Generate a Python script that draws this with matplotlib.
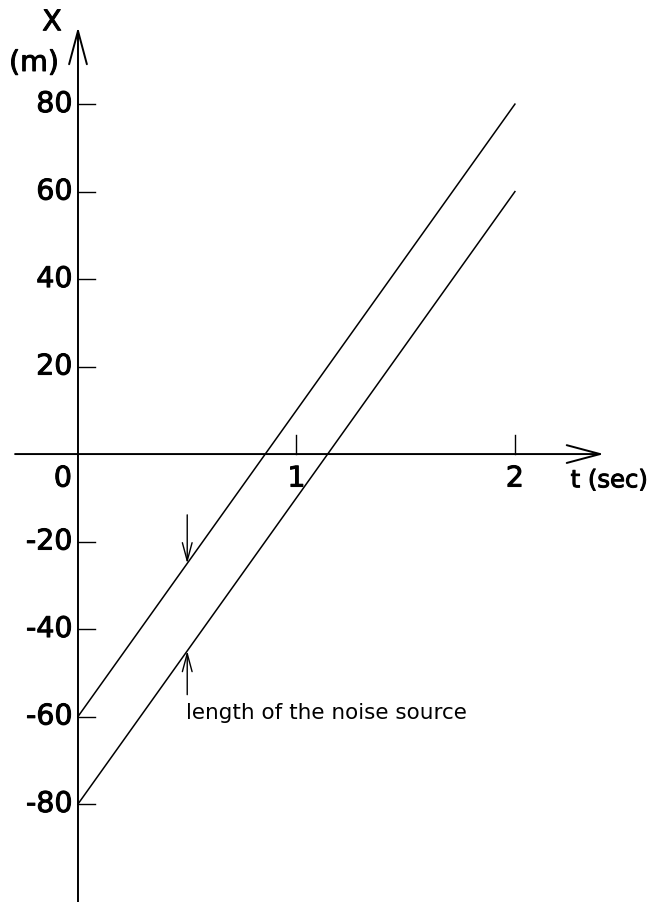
import matplotlib.pyplot as plt
import matplotlib.patheffects as pe

# path of the noise source front and rear ends, X(t) in metres
t_ends = [0.0, 2.0]
x_front = [-60.0, 80.0]
x_rear = [-80.0, 60.0]

# axis ticks
xticks = [1, 2]
xtick_labels = ['1', '2']
yticks = [80, 60, 40, 20, -20, -40, -60, -80]
ytick_labels = ['80', '60', '40', '20', '-20', '-40', '-60', '-80']

# where the source length is marked
t_mark = 0.5

plt.rcParams['font.family'] = ['DejaVu Sans']

fig = plt.figure(figsize=(6.53, 9.02), dpi=100)
ax = fig.add_axes([0, 0, 1, 1])
ax.set_xlim(-0.357, 2.632)
ax.set_ylim(-102.4, 103.8)
ax.axis('off')

# axes with open arrow heads
arrow_kw = dict(arrowstyle='->,head_length=1.2,head_width=0.32', lw=1.4,
                color='black', shrinkA=0, shrinkB=0, mutation_scale=20)
ax.annotate('', xy=(0, 97.6), xytext=(0, -102.4), arrowprops=arrow_kw)
ax.annotate('', xy=(2.407, 0), xytext=(-0.288, 0), arrowprops=arrow_kw)

# tick marks
for t in xticks:
    ax.plot([t, t], [0, 4.3], color='black', lw=1.0)
for y in yticks:
    ax.plot([0, 0.078], [y, y], color='black', lw=1.0)

heavy = [pe.withStroke(linewidth=0.7, foreground='black')]
tick_font = dict(fontsize=20.5, color='black', path_effects=heavy)
for t, lab in zip(xticks, xtick_labels):
    ax.text(t, -5.6, lab, ha='center', va='center', **tick_font)
ax.text(-0.069, -5.6, '0', ha='center', va='center', **tick_font)
for y, lab in zip(yticks, ytick_labels):
    ax.text(-0.025, y, lab, ha='right', va='center', **tick_font)

ax.text(2.255, -6.0, 't (sec)', ha='left', va='center', fontsize=17.5,
        color='black', path_effects=heavy)
ax.text(-0.119, 98.7, 'X', ha='center', va='center', **tick_font)
ax.text(-0.201, 89.4, '(m)', ha='center', va='center', **tick_font)

# front and rear of the source
ax.plot(t_ends, x_front, color='black', lw=1.1)
ax.plot(t_ends, x_rear, color='black', lw=1.1)

# arrows pointing at the two ends at t_mark
def x_at(t, xs):
    return xs[0] + (xs[1] - xs[0]) * (t - t_ends[0]) / (t_ends[1] - t_ends[0])

small_kw = dict(arrowstyle='->,head_length=1.3,head_width=0.35', lw=1.0,
                color='black', shrinkA=0, shrinkB=0, mutation_scale=10)
ax.annotate('', xy=(t_mark, x_at(t_mark, x_front)), xytext=(t_mark, -13.9),
            arrowprops=small_kw)
ax.annotate('', xy=(t_mark, x_at(t_mark, x_rear)), xytext=(t_mark, -55.0),
            arrowprops=small_kw)
ax.text(t_mark - 0.005, -59.3, 'length of the noise source', ha='left',
        va='center', fontsize=15.5, color='black')

fig.savefig('out.png', dpi=100)
